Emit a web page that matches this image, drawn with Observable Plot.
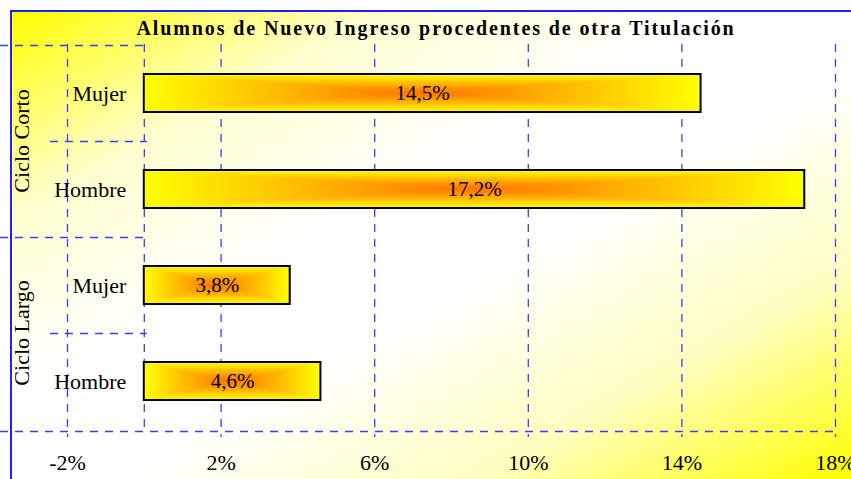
<!DOCTYPE html>
<html><head><meta charset="utf-8">
<script src="https://cdn.jsdelivr.net/npm/d3@7"></script>
<script src="https://cdn.jsdelivr.net/npm/@observablehq/plot@0.6"></script>
<style>
html,body{margin:0;padding:0;background:#fff;}
#wrap{position:relative;width:851px;height:479px;overflow:hidden;background:#fff;font-family:"Liberation Serif","Times New Roman",serif;}
#box{position:absolute;left:10px;top:10px;width:841px;height:469px;box-sizing:border-box;border-top:2px solid #1f1fff;border-left:2px solid #1f1fff;
 background:linear-gradient(to bottom right,#ffff00 0%,#ffffd0 22%,#ffffff 42%,#ffffff 56%,#ffffc0 78%,#ffff00 100%);}
#title{position:absolute;left:0;width:872px;top:18px;line-height:20px;text-align:center;font-weight:bold;font-size:20px;letter-spacing:1.9px;color:#000;}
#chart{position:absolute;left:0;top:0;}
#chart svg text{font-family:"Liberation Serif","Times New Roman",serif;}
</style></head><body>
<div id="wrap"><div id="box"></div><div id="title">Alumnos de Nuevo Ingreso procedentes de otra Titulación</div><div id="chart"></div></div>
<script>
// ---- data ----
const groups = ["Ciclo Corto", "Ciclo Largo"];
const sexes = ["Mujer", "Hombre"];
const cortoValues = [14.5, 17.2];   // Mujer, Hombre
const largoValues = [3.8, 4.6];     // Mujer, Hombre
const xTicks = [-2, 2, 6, 10, 14, 18];
const xDomain = [-2, 18];

const groupValues = [cortoValues, largoValues];
const rows = groups.flatMap((g, gi) => sexes.map((s, si) => ({
  group: g, sex: s, key: g + " · " + s, value: groupValues[gi][si]
})));
const fmt = v => v.toFixed(1).replace(".", ",") + "%";

const FONT = "Liberation Serif, Times New Roman, serif";
const GRID = "#3c3cff";
const GW = 1.3;
const DASH = "8,7";
const YELLOW = "#ffff00", ORANGE = "#ff7000";

// gradient definitions
function defs() {
  const g = d3.create("svg:g");
  const d = g.append("defs");
  const lin = (id, x2, y2, c0, c1) => {
    const lg = d.append("linearGradient").attr("id", id)
      .attr("x1", 0).attr("y1", 0).attr("x2", x2).attr("y2", y2);
    lg.append("stop").attr("offset", 0).attr("stop-color", c0);
    lg.append("stop").attr("offset", 1).attr("stop-color", c1);
  };
  lin("gTop", 0, 1, YELLOW, ORANGE);
  lin("gBot", 0, 1, ORANGE, YELLOW);
  lin("gLeft", 1, 0, YELLOW, ORANGE);
  lin("gRight", 1, 0, ORANGE, YELLOW);
  const h = d.append("linearGradient").attr("id", "gBase").attr("x1", 0).attr("x2", 1).attr("y1", 0).attr("y2", 0);
  h.append("stop").attr("offset", 0).attr("stop-color", YELLOW);
  h.append("stop").attr("offset", 0.5).attr("stop-color", "#ffb000");
  h.append("stop").attr("offset", 1).attr("stop-color", YELLOW);
  return g.node();
}

// rectangular ("pyramid") gradient fill of each bar, via the plot's scales
function pyramid(index, scales) {
  const {x, y} = scales;
  const bw = y.bandwidth();
  const g = d3.create("svg:g");
  for (const r of rows) {
    const x0 = x(0), x1 = x(r.value), y0 = y(r.key), y1 = y0 + bw;
    const cx = (x0 + x1) / 2, cy = (y0 + y1) / 2;
    const tri = (pts, id) => g.append("polygon")
      .attr("points", pts.map(p => p.join(",")).join(" "))
      .attr("fill", `url(#${id})`);
    tri([[x0, y0], [x1, y0], [cx, cy]], "gTop");
    tri([[x0, y1], [x1, y1], [cx, cy]], "gBot");
    tri([[x0, y0], [x0, y1], [cx, cy]], "gLeft");
    tri([[x1, y0], [x1, y1], [cx, cy]], "gRight");
  }
  return g.node();
}

// table lines and group labels of the category area
function table(index, scales, values, dims) {
  const {x, y} = scales;
  const bw = y.bandwidth(), step = y.step();
  const off = (step - bw) / 2;
  const g = d3.create("svg:g");
  const lines = g.append("g").attr("stroke", GRID).attr("stroke-width", GW)
    .attr("stroke-dasharray", DASH).attr("fill", "none");
  const x0 = x(0);
  rows.forEach((r, i) => {
    const top = Math.round(y(r.key) - off) + 0.5;
    lines.append("line").attr("x1", i % 2 === 0 ? 0 : 50).attr("x2", x0 + 3)
      .attr("y1", top).attr("y2", top);
  });
  const bottom = dims.height - dims.marginBottom + 0.5;
  lines.append("line").attr("x1", 0).attr("x2", dims.width - dims.marginRight).attr("y1", bottom).attr("y2", bottom);
  groups.forEach(gr => {
    const rs = rows.filter(r => r.group === gr);
    const cy = (y(rs[0].key) + y(rs[rs.length - 1].key) + bw) / 2;
    g.append("text").attr("transform", `translate(21,${cy}) rotate(-90)`)
      .attr("text-anchor", "middle").attr("dy", "0.35em")
      .attr("font-size", 22).attr("font-family", FONT).attr("fill", "black").text(gr);
  });
  return g.node();
}

const chart = Plot.plot({
  width: 851, height: 479,
  marginLeft: 67, marginRight: 16, marginTop: 44, marginBottom: 48,
  style: "background: transparent; font-family: 'Liberation Serif', 'Times New Roman', serif; font-size: 22px; color: black; overflow: hidden;",
  x: {domain: xDomain, ticks: xTicks, tickFormat: d => d + "%", tickSize: 0, tickPadding: 23, label: null, line: false},
  y: {domain: rows.map(d => d.key), paddingInner: 0.6, paddingOuter: 0.3, axis: null},
  marks: [
    defs,
    Plot.ruleX([0], {stroke: GRID, strokeWidth: GW, strokeDasharray: DASH}),
    Plot.ruleX(xTicks, {stroke: GRID, strokeWidth: GW, strokeDasharray: DASH, insetBottom: -6}),
    table,
    Plot.barX(rows, {x: "value", y: "key", fill: "url(#gBase)"}),
    pyramid,
    Plot.barX(rows, {x: "value", y: "key", fill: "none", stroke: "black", strokeWidth: 2}),
    Plot.text(rows, {x: d => d.value / 2, y: "key", text: d => fmt(d.value), fontSize: 21, fontFamily: FONT, fill: "black"}),
    Plot.text(rows, {x: 0, y: "key", text: "sex", textAnchor: "end", dx: -18, fontSize: 22, fontFamily: FONT, fill: "black"})
  ]
});
document.getElementById("chart").appendChild(chart);
</script>
</body></html>
